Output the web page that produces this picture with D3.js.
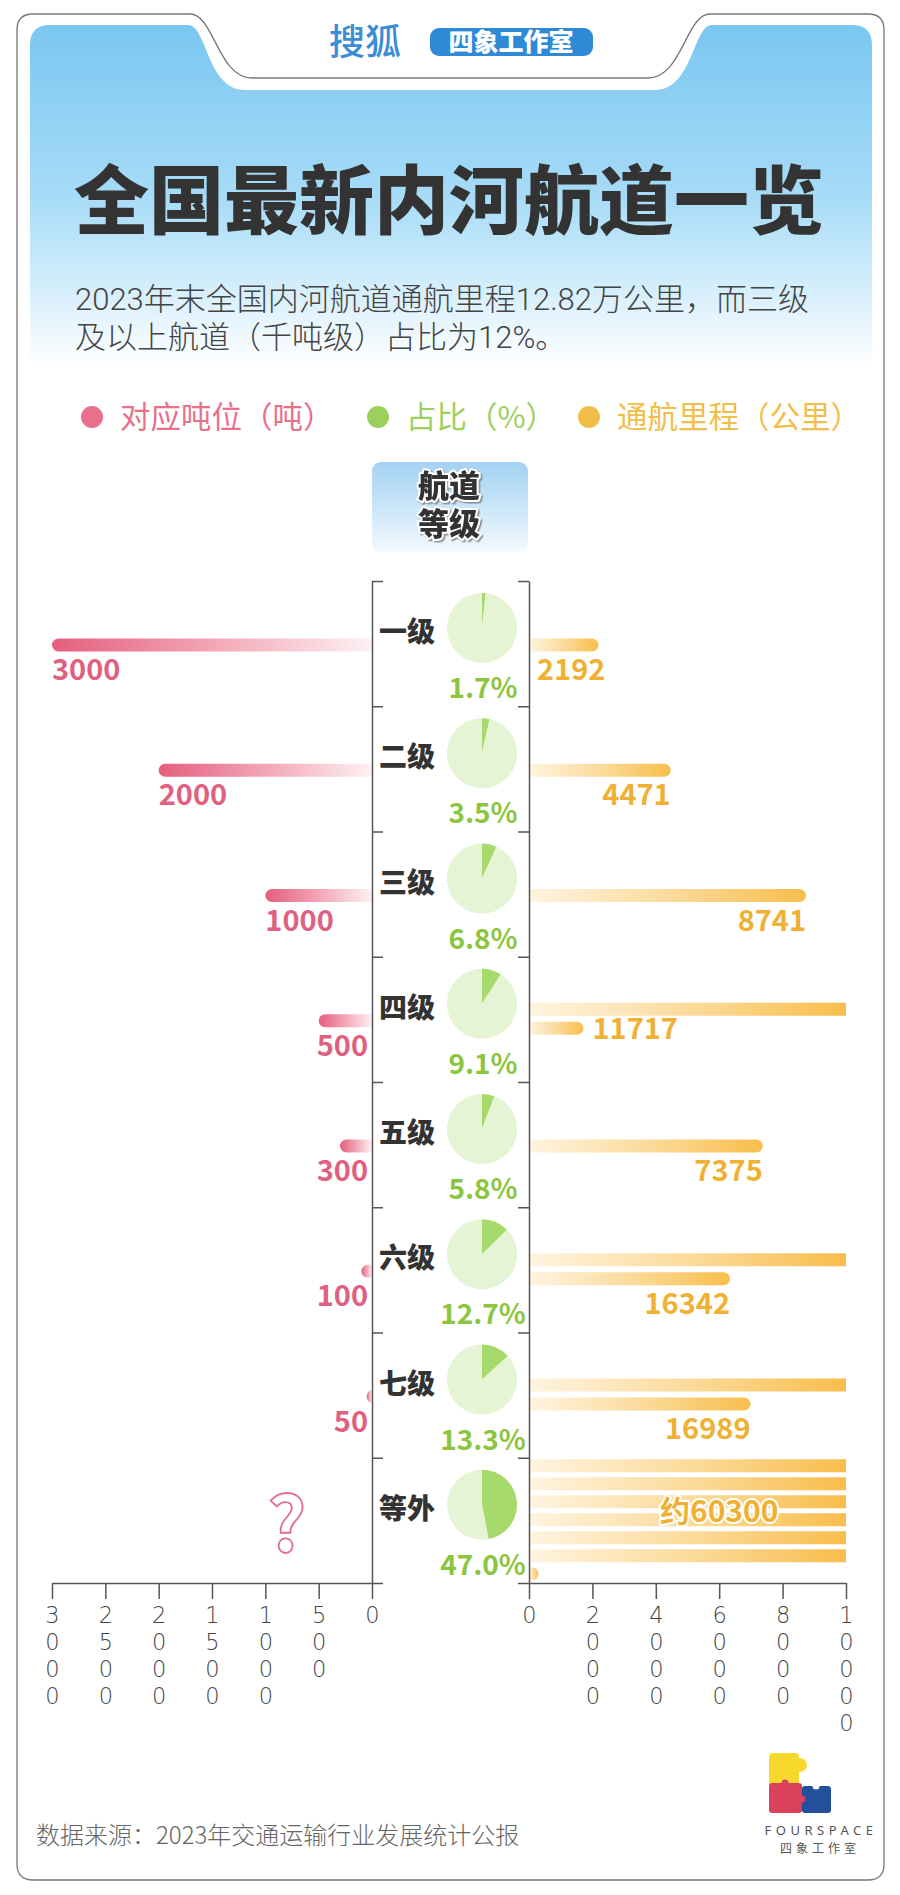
<!DOCTYPE html>
<html>
<head>
<meta charset="utf-8">
<script src="https://cdn.jsdelivr.net/npm/d3@7"></script>
<style>
  body { margin: 0; background: #fff; }
  svg { display: block; }
</style>
</head>
<body>
<div id="chart"></div>
<script>
// 数据
const grades = ['一级', '二级', '三级', '四级', '五级', '六级', '七级', '等外'];
const tonnage = [3000, 2000, 1000, 500, 300, 100, 50, null];
const share = [1.7, 3.5, 6.8, 9.1, 5.8, 12.7, 13.3, 47.0];
const mileage = [2192, 4471, 8741, 11717, 7375, 16342, 16989, 60300];
const mileageLabels = ['2192', '4471', '8741', '11717', '7375', '16342', '16989', '约60300'];
const leftTicks = [3000, 2500, 2000, 1500, 1000, 500, 0];
const rightTicks = [0, 2000, 4000, 6000, 8000, 10000];
const legendItems = ['对应吨位（吨）', '占比（%）', '通航里程（公里）'];

const width = 900, height = 1895;
const CJK = '"Noto Sans CJK SC", "Noto Sans", sans-serif';
const TIGHT = 'Roboto, "Noto Sans CJK SC", sans-serif';
const pink = '#e0607f', green = '#8cc540', orange = '#efb133', dark = '#333';

const svg = d3.select('#chart').append('svg')
  .attr('width', width).attr('height', height)
  .attr('font-family', CJK);

const defs = svg.append('defs');
const headGrad = defs.append('linearGradient').attr('id', 'head').attr('x1', 0).attr('x2', 0).attr('y1', 0).attr('y2', 1);
[[0, '#7ac7f0'], [0.5, '#a6dbf7'], [0.8, '#d9f0fc'], [1, '#ffffff']].forEach(s =>
  headGrad.append('stop').attr('offset', s[0]).attr('stop-color', s[1]));
const boxGrad = defs.append('linearGradient').attr('id', 'box').attr('x1', 0).attr('x2', 0).attr('y1', 0).attr('y2', 1);
[[0, '#a3d2f3'], [1, '#f3f9fe']].forEach(s => boxGrad.append('stop').attr('offset', s[0]).attr('stop-color', s[1]));
const pinkGrad = defs.append('linearGradient').attr('id', 'pinkbar');
[[0, '#e55e7d'], [0.5, '#f2a6b6'], [1, '#fdf1f3']].forEach(s => pinkGrad.append('stop').attr('offset', s[0]).attr('stop-color', s[1]));
const orangeGrad = defs.append('linearGradient').attr('id', 'orangebar');
[[0, '#fff4e0'], [0.5, '#fbdb9c'], [1, '#f8be4c']].forEach(s => orangeGrad.append('stop').attr('offset', s[0]).attr('stop-color', s[1]));
defs.append('filter').attr('id', 'shadow').attr('x', '-20%').attr('y', '-20%').attr('width', '140%').attr('height', '140%')
  .append('feDropShadow').attr('dx', 1.5).attr('dy', 1.5).attr('stdDeviation', 0.6).attr('flood-color', '#777').attr('flood-opacity', 0.8);

// 头部背景
svg.append('path')
  .attr('d', 'M30,45 Q30,25 50,25 H188 C207,25 207,90 245,90 H655 C693,90 693,25 712,25 H852 Q872,25 872,45 V365 H30 Z')
  .attr('fill', 'url(#head)');

// 外框
svg.append('path')
  .attr('d', 'M17,30 Q17,14 33,14 H190 C214,14 218,78 252,78 H648 C682,78 686,14 710,14 H868 Q884,14 884,30 V1864 Q884,1880 868,1880 H33 Q17,1880 17,1864 Z')
  .attr('fill', 'none').attr('stroke', '#777').attr('stroke-width', 1.3);

// logo
svg.append('text').attr('x', 365).attr('y', 55).attr('text-anchor', 'middle')
  .attr('font-size', 36).attr('font-weight', 500).attr('fill', '#3a8ed6').text('搜狐');
svg.append('rect').attr('x', 430).attr('y', 28).attr('width', 163).attr('height', 28).attr('rx', 9).attr('fill', '#2f8ad6');
svg.append('text').attr('x', 511).attr('y', 51).attr('text-anchor', 'middle')
  .attr('font-size', 25).attr('font-weight', 900).attr('fill', '#fff').text('四象工作室');

// 标题
svg.append('text').attr('x', 449).attr('y', 228).attr('text-anchor', 'middle')
  .attr('font-size', 75).attr('font-weight', 900).attr('fill', dark).text('全国最新内河航道一览');
const subtitle = ['2023年末全国内河航道通航里程12.82万公里，而三级', '及以上航道（千吨级）占比为12%。'];
subtitle.forEach((d, i) => {
  svg.append('text').attr('x', 75).attr('y', 310 + i * 38)
    .attr('font-family', TIGHT).attr('font-size', 31).attr('font-weight', 300).attr('fill', '#444')
    .text(d);
});

// 图例
const legendColors = ['#e9708a', '#9dcf5c', '#f2be4a'];
const legendX = [92, 378, 589];
legendItems.forEach((d, i) => {
  svg.append('circle').attr('cx', legendX[i]).attr('cy', 417).attr('r', 11).attr('fill', legendColors[i]);
  svg.append('text').attr('x', legendX[i] + 28).attr('y', 428)
    .attr('font-size', 30.5).attr('fill', legendColors[i]).text(d);
});

// 航道等级 表头
svg.append('rect').attr('x', 372).attr('y', 462).attr('width', 156).attr('height', 90).attr('rx', 9).attr('fill', 'url(#box)');
['航道', '等级'].forEach((d, i) => {
  svg.append('text').attr('x', 449).attr('y', 497 + i * 38).attr('text-anchor', 'middle')
    .attr('font-family', TIGHT).attr('font-size', 31).attr('font-weight', 900).attr('fill', dark)
    .attr('stroke', '#fff').attr('stroke-width', 4).attr('paint-order', 'stroke').attr('stroke-linejoin', 'round')
    .attr('filter', 'url(#shadow)')
    .text(d);
});

// 比例尺
const xL = d3.scaleLinear().domain([0, 3000]).range([372, 52]);
const xR = d3.scaleLinear().domain([0, 10000]).range([529, 846]);
const y = d3.scaleBand().domain(grades).range([581, 1583]);
const yEdge = d3.scaleLinear().domain([0, grades.length]).range([581, 1583]);
const barH = 13;

function leftBar(x0, x1, c) {
  const r = barH / 2, rx = Math.min(r, x1 - x0);
  return `M${x1},${c - r}H${x0 + rx}A${rx},${r} 0 0 0 ${x0 + rx},${c + r}H${x1}Z`;
}
function rightBar(x0, x1, c, round) {
  const r = barH / 2, rx = round ? Math.min(r, x1 - x0) : 0;
  if (!rx) return `M${x0},${c - r}H${x1}V${c + r}H${x0}Z`;
  return `M${x0},${c - r}H${x1 - rx}A${rx},${r} 0 0 1 ${x1 - rx},${c + r}H${x0}Z`;
}

const pie = d3.pie().sort(null);
const arc = d3.arc().innerRadius(0).outerRadius(35);

const rows = svg.append('g');
grades.forEach((g, i) => {
  const t = y(g);
  const row = rows.append('g');

  // 等级 + 饼图
  row.append('text').attr('x', 407).attr('y', t + 61).attr('text-anchor', 'middle')
    .attr('font-size', 28).attr('font-weight', 900).attr('fill', dark).text(g);
  const pg = row.append('g').attr('transform', `translate(482,${t + 47})`);
  pg.selectAll('path').data(pie([share[i], 100 - share[i]])).join('path')
    .attr('d', arc).attr('fill', (d, j) => j === 0 ? '#a7da6c' : '#e4f4d4');
  row.append('text').attr('x', 483).attr('y', t + 117).attr('text-anchor', 'middle')
    .attr('font-size', 28).attr('font-weight', 700).attr('fill', green)
    .text(share[i].toFixed(1) + '%');

  // 吨位（左）
  if (tonnage[i] != null) {
    const c = t + 64, x0 = xL(tonnage[i]);
    row.append('path').attr('d', leftBar(x0, xL(0), c)).attr('fill', 'url(#pinkbar)');
    const lab = row.append('text').attr('y', c + 35)
      .attr('font-size', 29).attr('font-weight', 700).attr('fill', pink).text(d3.format('d')(tonnage[i]));
    const w = lab.node().getComputedTextLength();
    lab.attr('x', Math.min(x0, 368 - w));
  } else {
    row.append('text').attr('x', xL(800)).attr('y', t + 94).attr('text-anchor', 'middle')
      .attr('font-size', 76).attr('font-weight', 700).attr('fill', '#fff')
      .attr('stroke', '#e07090').attr('stroke-width', 1.8).text('?');
  }

  // 通航里程（右），超过 10000 的部分换行堆叠
  const v = mileage[i];
  const full = Math.floor(v / 10000), rest = v - full * 10000;
  const segs = d3.range(full).map(() => ({ v: 10000, round: false }));
  if (rest > 0) segs.push({ v: rest, round: true });
  const n = segs.length, step = n > 2 ? 18 : 19;
  const centers = segs.map((s, k) => t + 62 + (k - (n - 1) / 2) * step);
  if (n === 1) centers[0] = t + 64;
  row.selectAll('path.ob').data(segs).join('path').attr('class', 'ob')
    .attr('d', (s, k) => rightBar(xR(0), xR(s.v), centers[k], s.round))
    .attr('fill', 'url(#orangebar)');

  const lab = row.append('text').attr('font-size', 29).attr('font-weight', 700).attr('fill', orange).text(mileageLabels[i]);
  const w = lab.node().getComputedTextLength();
  const last = segs[n - 1], lastEnd = xR(last.v), lastC = centers[n - 1];
  if (full >= 2) {
    lab.attr('x', xR(6000)).attr('y', t + 64).attr('text-anchor', 'middle').attr('font-size', 30)
      .attr('stroke', '#fff').attr('stroke-width', 4).attr('paint-order', 'stroke').attr('stroke-linejoin', 'round');
  } else if (full >= 1 && lastEnd - xR(0) < w + 30) {
    lab.attr('x', lastEnd + 9).attr('y', lastC + 11);
  } else {
    lab.attr('x', Math.max(lastEnd, 537 + w)).attr('y', lastC + 35).attr('text-anchor', 'end');
  }
});

// 中间两条竖轴
function styleAxis(g) {
  g.attr('color', '#555');
  g.selectAll('path, line').attr('stroke-width', 1.5);
}
svg.append('g').attr('transform', 'translate(372,0)')
  .call(d3.axisRight(yEdge).tickValues(d3.range(0, grades.length + 1)).tickSize(11).tickSizeOuter(0).tickFormat(''))
  .call(styleAxis);
svg.append('g').attr('transform', 'translate(529,0)')
  .call(d3.axisLeft(yEdge).tickValues(d3.range(0, grades.length + 1)).tickSize(11).tickSizeOuter(0).tickFormat(''))
  .call(styleAxis);

// 底部坐标轴，刻度文字竖排（一位一行）
function stackLabels(g) {
  g.attr('font-family', '"DejaVu Sans", sans-serif').attr('font-size', 22.5);
  g.selectAll('.tick text').each(function () {
    const el = d3.select(this);
    const s = el.text();
    el.text('').attr('y', 40).attr('dy', null).attr('fill', '#444').attr('font-weight', 200);
    s.split('').forEach((ch, k) => el.append('tspan').attr('x', 0).attr('dy', k === 0 ? 0 : 27).text(ch));
  });
}
svg.append('g').attr('transform', 'translate(0,1583)')
  .call(d3.axisBottom(xL).tickValues(leftTicks).tickSize(16).tickSizeOuter(0).tickFormat(d3.format('d')))
  .call(styleAxis).call(stackLabels);
svg.append('g').attr('transform', 'translate(0,1583)')
  .call(d3.axisBottom(xR).tickValues(rightTicks).tickSize(16).tickSizeOuter(0).tickFormat(d3.format('d')))
  .call(styleAxis).call(stackLabels);

// 数据来源
svg.append('text').attr('x', 36).attr('y', 1844)
  .attr('font-size', 24).attr('font-weight', 300).attr('fill', '#666')
  .text('数据来源：2023年交通运输行业发展统计公报');

// FOURSPACE 标志
const logo = svg.append('g');
logo.append('rect').attr('x', 769).attr('y', 1753).attr('width', 30).attr('height', 32).attr('rx', 4).attr('fill', '#f6d92c');
logo.append('circle').attr('cx', 800).attr('cy', 1765).attr('r', 7).attr('fill', '#f6d92c');
logo.append('rect').attr('x', 769).attr('y', 1783).attr('width', 33).attr('height', 30).attr('rx', 3).attr('fill', '#da415b');
logo.append('circle').attr('cx', 785).attr('cy', 1783).attr('r', 3.5).attr('fill', '#da415b');
logo.append('rect').attr('x', 802).attr('y', 1786).attr('width', 29).attr('height', 27).attr('rx', 3).attr('fill', '#244f9b');
logo.append('circle').attr('cx', 816).attr('cy', 1786).attr('r', 3.5).attr('fill', '#fff');
logo.append('circle').attr('cx', 802).attr('cy', 1799).attr('r', 3.5).attr('fill', '#da415b');
logo.append('text').attr('x', 821).attr('y', 1835).attr('text-anchor', 'middle')
  .attr('font-family', '"Noto Sans", sans-serif').attr('font-size', 13).attr('letter-spacing', 4.5).attr('fill', '#555').text('FOURSPACE');
logo.append('text').attr('x', 820).attr('y', 1853).attr('text-anchor', 'middle')
  .attr('font-size', 12).attr('letter-spacing', 4).attr('fill', '#555').text('四象工作室');
</script>
</body>
</html>
